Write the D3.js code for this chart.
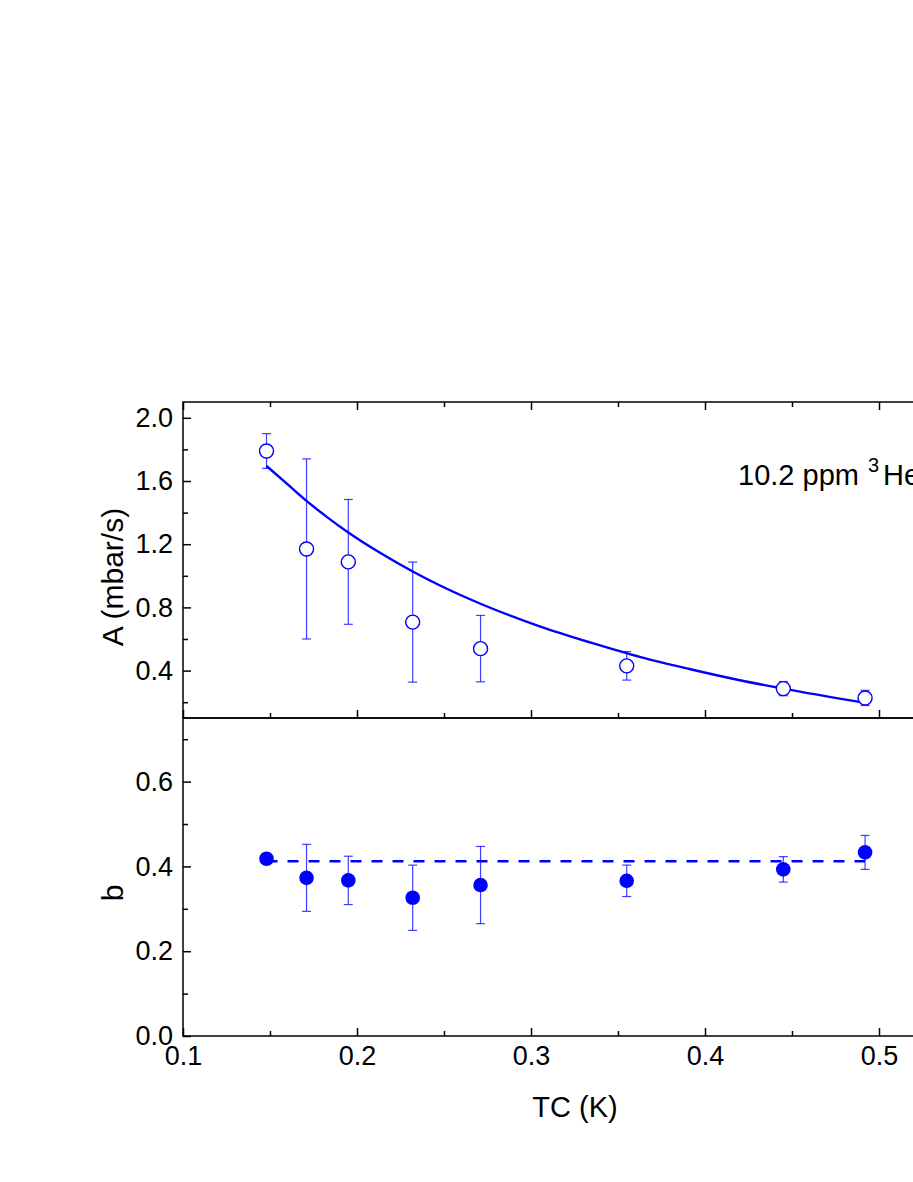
<!DOCTYPE html>
<html>
<head>
  <meta charset="utf-8">
  <script src="https://d3js.org/d3.v7.min.js"></script>
  <style>
    body {
      margin: 0;
      background-color: #fff;
      font-family: "Liberation Sans", Arial, sans-serif;
    }
    .axis line { stroke: #000; stroke-width: 1.5; }
    .axis path { display: none; }
    .axis text { font-size: 27px; fill: #000; font-family: "Liberation Sans", Arial, sans-serif; }
    .frame { fill: none; stroke: #000; stroke-width: 1.5; }
    .err { stroke: #0000ff; stroke-width: 1.2; opacity: 0.75; }
  </style>
</head>
<body>
<script>
// measured points (TC in K)
var tc   = [0.148, 0.171, 0.195, 0.232, 0.271, 0.355, 0.445, 0.492];
var aVal = [1.79, 1.17, 1.088, 0.707, 0.539, 0.43, 0.286, 0.227];
var aErr = [0.11, 0.57, 0.395, 0.38, 0.21, 0.09, 0.045, 0.048];
var bVal = [0.418, 0.373, 0.367, 0.326, 0.356, 0.366, 0.393, 0.433];
var bErr = [0.008, 0.079, 0.057, 0.077, 0.091, 0.037, 0.03, 0.04];

// fit curve for A
var fitT = [0.148, 0.16, 0.171, 0.183, 0.195, 0.213, 0.232, 0.248, 0.271, 0.305, 0.334, 0.363, 0.391, 0.42, 0.445, 0.492];
var fitA = [1.695, 1.58, 1.474, 1.37, 1.274, 1.147, 1.027, 0.937, 0.823, 0.68, 0.578, 0.485, 0.41, 0.339, 0.286, 0.196];

// mean of b
var bMean = 0.412;

var xTicks = [0.1, 0.2, 0.3, 0.4, 0.5];
var xMinor = [0.15, 0.25, 0.35, 0.45, 0.55];
var aTicks = [0.4, 0.8, 1.2, 1.6, 2.0];
var aMinor = [0.2, 0.6, 1.0, 1.4, 1.8];
var bTicks = [0.0, 0.2, 0.4, 0.6];
var bMinor = [0.1, 0.3, 0.5, 0.7];

var W = 913, H = 1182;
var left = 183, right = 966, topY = 402, midY = 718, botY = 1036;

var svg = d3.select("body").append("svg")
    .attr("width", W)
    .attr("height", H);

var x = d3.scaleLinear().domain([0.1, 0.55]).range([left, right]);
var yA = d3.scaleLinear().domain([0.1, 2.1]).range([midY, topY]);
var yB = d3.scaleLinear().domain([0, 0.75]).range([botY, midY]);

var fmt = d3.format(".1f");

// frames
svg.append("rect").attr("class", "frame")
    .attr("x", left).attr("y", topY)
    .attr("width", right - left).attr("height", midY - topY);
svg.append("rect").attr("class", "frame")
    .attr("x", left).attr("y", midY)
    .attr("width", right - left).attr("height", botY - midY);

function addAxis(axis, tx, ty) {
  svg.append("g").attr("class", "axis")
      .attr("transform", "translate(" + tx + "," + ty + ")")
      .call(axis);
}

// top panel axes (ticks inward)
addAxis(d3.axisLeft(yA).tickValues(aTicks).tickSize(-8).tickPadding(10).tickFormat(fmt), left, 0);
addAxis(d3.axisLeft(yA).tickValues(aMinor).tickSize(-5).tickFormat(""), left, 0);
addAxis(d3.axisTop(x).tickValues(xTicks).tickSize(-8).tickFormat(""), 0, topY);
addAxis(d3.axisTop(x).tickValues(xMinor).tickSize(-5).tickFormat(""), 0, topY);
addAxis(d3.axisBottom(x).tickValues(xTicks).tickSize(-8).tickFormat(""), 0, midY);
addAxis(d3.axisBottom(x).tickValues(xMinor).tickSize(-5).tickFormat(""), 0, midY);

// bottom panel axes
addAxis(d3.axisLeft(yB).tickValues(bTicks).tickSize(-8).tickPadding(10).tickFormat(fmt), left, 0);
addAxis(d3.axisLeft(yB).tickValues(bMinor).tickSize(-5).tickFormat(""), left, 0);
addAxis(d3.axisBottom(x).tickValues(xTicks).tickSize(-8).tickPadding(10).tickFormat(fmt), 0, botY);
addAxis(d3.axisBottom(x).tickValues(xMinor).tickSize(-5).tickFormat(""), 0, botY);

// axis titles
svg.append("text")
    .attr("transform", "translate(123,577) rotate(-90)")
    .attr("text-anchor", "middle")
    .style("font-size", "30px")
    .text("A (mbar/s)");
svg.append("text")
    .attr("transform", "translate(123,893) rotate(-90)")
    .attr("text-anchor", "middle")
    .style("font-size", "30px")
    .text("b");
svg.append("text")
    .attr("x", 575)
    .attr("y", 1117)
    .attr("text-anchor", "middle")
    .style("font-size", "29px")
    .text("TC (K)");

// annotation
var note = svg.append("text")
    .attr("x", 738)
    .attr("y", 485)
    .style("font-size", "29px");
note.append("tspan").text("10.2 ppm");
note.append("tspan").attr("dx", 9).attr("dy", -13).style("font-size", "20px").text("3");
note.append("tspan").attr("dx", 4).attr("dy", 13).text("He");

var idx = d3.range(tc.length);

// ---- top panel: A ----
var fitLine = d3.line()
    .x(function (i) { return x(fitT[i]); })
    .y(function (i) { return yA(fitA[i]); })
    .curve(d3.curveMonotoneX);
svg.append("path")
    .datum(d3.range(fitT.length))
    .attr("d", fitLine)
    .attr("fill", "none")
    .attr("stroke", "#0000ff")
    .attr("stroke-width", 2.4);

function errorBars(vals, errs, yScale) {
  var g = svg.append("g");
  g.selectAll(".ev").data(idx).enter().append("line")
      .attr("class", "err")
      .attr("x1", function (i) { return x(tc[i]); })
      .attr("x2", function (i) { return x(tc[i]); })
      .attr("y1", function (i) { return yScale(vals[i] - errs[i]); })
      .attr("y2", function (i) { return yScale(vals[i] + errs[i]); });
  [1, -1].forEach(function (s) {
    g.selectAll(".cap" + s).data(idx).enter().append("line")
        .attr("class", "err")
        .attr("x1", function (i) { return x(tc[i]) - 4.5; })
        .attr("x2", function (i) { return x(tc[i]) + 4.5; })
        .attr("y1", function (i) { return yScale(vals[i] + s * errs[i]); })
        .attr("y2", function (i) { return yScale(vals[i] + s * errs[i]); });
  });
}

errorBars(aVal, aErr, yA);
svg.selectAll(".openPt").data(idx).enter().append("circle")
    .attr("cx", function (i) { return x(tc[i]); })
    .attr("cy", function (i) { return yA(aVal[i]); })
    .attr("r", 7)
    .attr("fill", "#fff")
    .attr("stroke", "#0000ff")
    .attr("stroke-width", 1.4);

// ---- bottom panel: b ----
svg.append("line")
    .attr("x1", x(tc[0]))
    .attr("x2", x(tc[tc.length - 1]))
    .attr("y1", yB(bMean))
    .attr("y2", yB(bMean))
    .attr("stroke", "#0000ff")
    .attr("stroke-width", 2.6)
    .attr("stroke-dasharray", "11,10");

errorBars(bVal, bErr, yB);
svg.selectAll(".fullPt").data(idx).enter().append("circle")
    .attr("cx", function (i) { return x(tc[i]); })
    .attr("cy", function (i) { return yB(bVal[i]); })
    .attr("r", 7.3)
    .attr("fill", "#0000ff");
</script>
</body>
</html>
